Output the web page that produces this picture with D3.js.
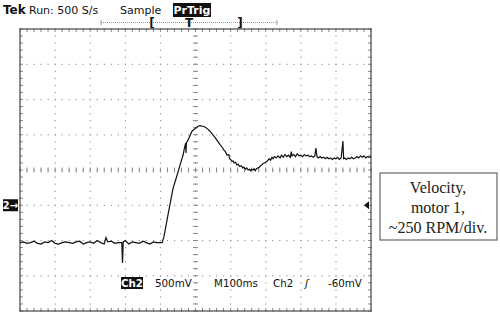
<!DOCTYPE html>
<html>
<head>
<meta charset="utf-8">
<script src="https://cdn.jsdelivr.net/npm/d3@7"></script>
<style>
  body { margin: 0; background: #fff; }
  svg { display: block; }
  .hdr { font-family: "DejaVu Sans", sans-serif; font-size: 11px; fill: #111; }
  .ftr { font-family: "DejaVu Sans", sans-serif; font-size: 10.3px; fill: #111; }
  .note { font-family: "Liberation Serif", serif; font-size: 16px; fill: #222; }
</style>
</head>
<body>
<div id="scope"></div>
<script>
// trace samples: time in ms from left edge, volts on Ch2
var traceT = [0,10,20,30,40,50,60,70,80,90,100,110,120,130,140,150,160,170,180,190,
  200,210,220,230,240,245,250,260,270,280,290,292,294,300,310,320,330,340,350,360,370,380,390,400,
  405,410,420,436,446,456,465,468,472,473,474,480,490,499,507,513,520,527,535,541,548,556,563,
  570,575,580,585,590,595,597,600,604,607,610,614,618,622,626,630,635,638,642,646,650,654,657,660,
  664,667,670,674,678,682,685,689,692,696,
  700,705,710,714,718,721,725,730,735,741,745,750,755,760,765,770,773,775,780,785,790,795,800,805,
  810,815,820,825,830,835,840,843,846,850,855,860,865,870,875,880,885,890,895,900,905,910,915,920,
  922,925,930,935,940,945,950,955,960,965,970,975,980,985,990,995,1000];
var traceV = [-0.53,-0.52,-0.54,-0.53,-0.51,-0.54,-0.55,-0.52,-0.53,-0.50,-0.54,-0.55,-0.53,-0.52,-0.53,-0.54,-0.52,-0.51,-0.55,-0.53,
  -0.52,-0.54,-0.50,-0.53,-0.55,-0.46,-0.52,-0.51,-0.54,-0.53,-0.53,-0.82,-0.52,-0.50,-0.55,-0.52,-0.53,-0.54,-0.51,-0.53,-0.55,-0.52,-0.53,-0.53,
  -0.53,-0.45,-0.18,0.24,0.40,0.57,0.72,0.80,0.88,0.74,0.88,0.94,1.05,1.09,1.12,1.13,1.12,1.11,1.08,1.05,1.01,0.96,0.91,
  0.86,0.83,0.79,0.76,0.71,0.72,0.66,0.65,0.62,0.63,0.60,0.61,0.57,0.58,0.55,0.56,0.53,0.54,0.51,0.53,0.50,0.51,0.49,0.51,
  0.50,0.52,0.49,0.52,0.53,0.54,0.56,0.57,0.59,0.60,
  0.61,0.63,0.66,0.64,0.68,0.66,0.69,0.67,0.70,0.67,0.71,0.68,0.72,0.69,0.71,0.68,0.76,0.70,0.72,0.69,0.73,0.70,0.71,0.69,
  0.72,0.70,0.71,0.69,0.70,0.68,0.70,0.81,0.69,0.67,0.69,0.67,0.68,0.66,0.68,0.66,0.67,0.65,0.67,0.66,0.68,0.65,0.67,0.91,
  0.66,0.67,0.65,0.67,0.66,0.68,0.66,0.67,0.69,0.67,0.70,0.68,0.70,0.67,0.69,0.68,0.69];

var headerItems = ["Run: 500 S/s", "Sample"];
var footerItems = ["500mV", "M100ms", "Ch2", "\u0283", "-60mV"];
var noteLines = ["Velocity,", "motor 1,", "~250 RPM/div."];

var svgWidth = 500, svgHeight = 317;
var grid = { left: 20, top: 29, right: 371, bottom: 311 };

var svg = d3.select("#scope").append("svg")
  .attr("width", svgWidth)
  .attr("height", svgHeight);

var x = d3.scaleLinear().domain([0, 1000]).range([grid.left, grid.right]);
var y = d3.scaleLinear().domain([-1.5, 2.5]).range([grid.bottom, grid.top]);

// dotted graticule, one dot per fifth of a division
var g = svg.append("g");
d3.range(0, 1001, 100).forEach(function(t) {
  d3.range(-1.5, 2.5001, 0.1).forEach(function(v) {
    g.append("rect").attr("x", x(t) - 0.5).attr("y", y(v) - 0.5)
      .attr("width", 1.2).attr("height", 1.2).attr("fill", "#999");
  });
});
d3.range(-1.5, 2.5001, 0.5).forEach(function(v) {
  d3.range(0, 1001, 20).forEach(function(t) {
    g.append("rect").attr("x", x(t) - 0.5).attr("y", y(v) - 0.5)
      .attr("width", 1.2).attr("height", 1.2).attr("fill", "#999");
  });
});

// centre cross and edge ticks
d3.range(0, 1001, 20).forEach(function(t) {
  g.append("line").attr("x1", x(t)).attr("x2", x(t))
    .attr("y1", y(0.5) - 2.5).attr("y2", y(0.5) + 2.5).attr("stroke", "#888");
  g.append("line").attr("x1", x(t)).attr("x2", x(t))
    .attr("y1", grid.top).attr("y2", grid.top + 3).attr("stroke", "#888");
  g.append("line").attr("x1", x(t)).attr("x2", x(t))
    .attr("y1", grid.bottom - 3).attr("y2", grid.bottom).attr("stroke", "#888");
});
d3.range(-1.5, 2.5001, 0.1).forEach(function(v) {
  g.append("line").attr("x1", x(500) - 2.5).attr("x2", x(500) + 2.5)
    .attr("y1", y(v)).attr("y2", y(v)).attr("stroke", "#888");
  g.append("line").attr("x1", grid.left).attr("x2", grid.left + 3)
    .attr("y1", y(v)).attr("y2", y(v)).attr("stroke", "#888");
  g.append("line").attr("x1", grid.right - 3).attr("x2", grid.right)
    .attr("y1", y(v)).attr("y2", y(v)).attr("stroke", "#888");
});

svg.append("rect")
  .attr("x", grid.left).attr("y", grid.top)
  .attr("width", grid.right - grid.left).attr("height", grid.bottom - grid.top)
  .attr("fill", "none").attr("stroke", "#555").attr("stroke-width", 1.3);

// trace
var pts = traceT.map(function(t, i) { return [t, traceV[i]]; });
svg.append("path")
  .datum(pts)
  .attr("fill", "none")
  .attr("stroke", "#111")
  .attr("stroke-width", 1.2)
  .attr("d", d3.line().x(d => x(d[0])).y(d => y(d[1])));

// header
svg.append("text").attr("class", "hdr").attr("x", 3).attr("y", 14)
  .attr("font-weight", "bold").style("font-size", "12px").text("Tek");
svg.append("text").attr("class", "hdr").attr("x", 29).attr("y", 14).text(headerItems[0]);
svg.append("text").attr("class", "hdr").attr("x", 120).attr("y", 14).text(headerItems[1]);
svg.append("rect").attr("x", 173).attr("y", 3).attr("width", 38).attr("height", 14).attr("fill", "#111");
svg.append("text").attr("class", "hdr").attr("x", 192).attr("y", 14)
  .attr("text-anchor", "middle").attr("font-weight", "bold").style("fill", "#fff").text("PrTrig");

// record bracket
svg.append("line").attr("x1", 101).attr("x2", 277).attr("y1", 22.5).attr("y2", 22.5)
  .attr("stroke", "#999").attr("stroke-dasharray", "1,1");
[101, 277].forEach(function(px) {
  svg.append("line").attr("x1", px).attr("x2", px).attr("y1", 20).attr("y2", 25).attr("stroke", "#999");
});
[[152, "["], [189, "T"], [240, "]"]].forEach(function(b) {
  svg.append("text").attr("class", "hdr").attr("x", b[0]).attr("y", 27)
    .attr("text-anchor", "middle").attr("font-weight", "bold")
    .style("font-size", "12px").style("fill", "#111").text(b[1]);
});

// ground marker
svg.append("rect").attr("x", 3).attr("y", y(0) - 6).attr("width", 15).attr("height", 12).attr("fill", "#111");
svg.append("text").attr("class", "ftr").attr("x", 10.5).attr("y", y(0) + 3.5)
  .attr("text-anchor", "middle").attr("font-weight", "bold").style("fill", "#fff").text("2\u2192");
svg.append("path")
  .attr("d", `M${grid.right - 7},${y(0)} L${grid.right - 2},${y(0) - 4} L${grid.right - 2},${y(0) + 4} Z`)
  .attr("fill", "#111");

// footer readout
svg.append("rect").attr("x", 121).attr("y", 277).attr("width", 22).attr("height", 12).attr("fill", "#111");
svg.append("text").attr("class", "ftr").attr("x", 132).attr("y", 287)
  .attr("text-anchor", "middle").attr("font-weight", "bold").style("fill", "#fff").text("Ch2");
var footX = [155, 214, 273, 305, 328];
footerItems.forEach(function(s, i) {
  svg.append("text").attr("class", "ftr").attr("x", footX[i]).attr("y", 287)
    .attr("font-style", i === 3 ? "italic" : null).text(s);
});

// annotation box
svg.append("rect").attr("x", 380).attr("y", 173).attr("width", 117).attr("height", 67)
  .attr("fill", "#fff").attr("stroke", "#666").attr("stroke-width", 1.2);
noteLines.forEach(function(s, i) {
  svg.append("text").attr("class", "note").attr("x", 438).attr("y", 193 + i * 20)
    .attr("text-anchor", "middle").text(s);
});
</script>
</body>
</html>
